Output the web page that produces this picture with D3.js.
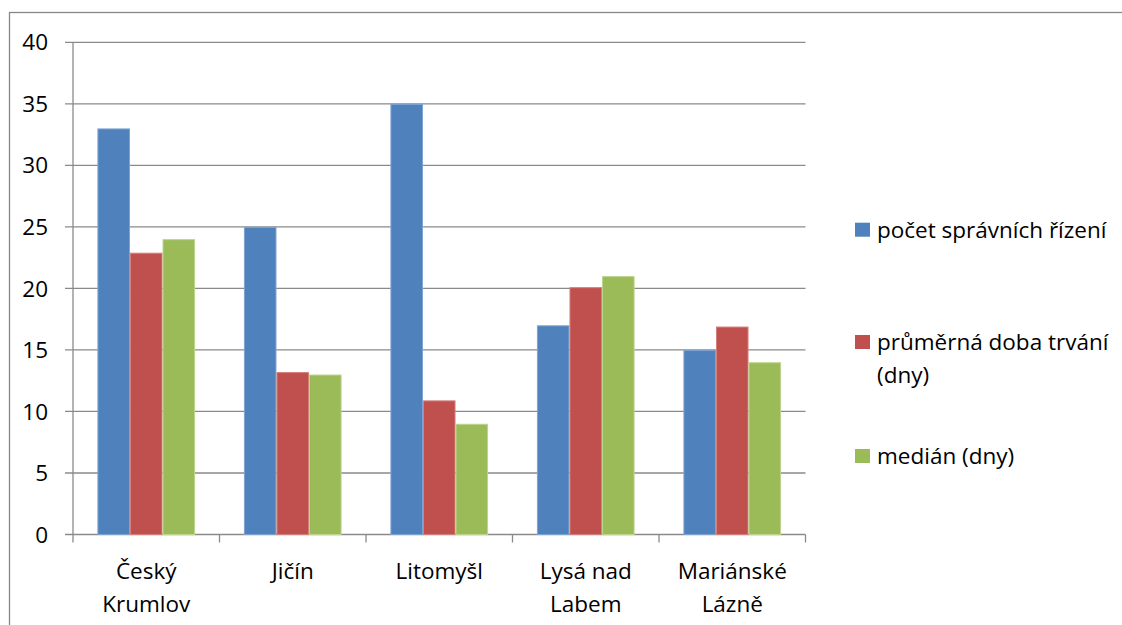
<!DOCTYPE html>
<html><head><meta charset="utf-8">
<script src="https://cdn.jsdelivr.net/npm/d3@7"></script>
<style>
html,body{margin:0;padding:0;background:#fff;}
svg{display:block;font-family:"Open Sans","Lato",sans-serif;}
</style></head><body>
<svg id="c" width="1122" height="625"></svg>
<script>
const categories = ["Český Krumlov", "Jičín", "Litomyšl", "Lysá nad Labem", "Mariánské Lázně"];
const seriesNames = ["počet správních řízení", "průměrná doba trvání (dny)", "medián (dny)"];
const pocet = [33, 25, 35, 17, 15];
const prumer = [22.9, 13.2, 10.9, 20.1, 16.9];
const median = [24, 13, 9, 21, 14];
const yTicks = [0, 5, 10, 15, 20, 25, 30, 35, 40];
const colors = ["#4F81BD", "#C0504D", "#9BBB59"];
const edges = ["#7EA2D3", "#D47F7C", "#BCD48C"];

(function () {
const series = [pocet, prumer, median];
const svg = d3.select("#c");
const W = 1122, H = 625;
const mLeft = 73, mRight = 805.5, mTop = 42.3, mBottom = 534.5;
const fontSize = 22.5;

// outer frame
svg.append("rect").attr("x", 9.5).attr("y", 12.5).attr("width", W + 20).attr("height", H + 20)
  .attr("fill", "none").attr("stroke", "#878787").attr("stroke-width", 1.3);

const x = d3.scaleBand().domain(categories).range([mLeft, mRight]).paddingInner(0).paddingOuter(0);
const y = d3.scaleLinear().domain([0, 40]).range([mBottom, mTop]);
const xs = d3.scaleBand().domain(d3.range(series.length)).range([0, x.bandwidth()]).paddingInner(0).paddingOuter(0.75);

// gridlines
svg.append("g").selectAll("line").data(yTicks).join("line")
  .attr("x1", mLeft - 8).attr("x2", mRight)
  .attr("y1", d => y(d)).attr("y2", d => y(d))
  .attr("stroke", "#8a8a8a").attr("stroke-width", 1.3);

// y axis line
svg.append("line").attr("x1", mLeft).attr("x2", mLeft).attr("y1", mTop).attr("y2", mBottom + 8)
  .attr("stroke", "#8a8a8a").attr("stroke-width", 1.3);

// x ticks at boundaries
const bounds = categories.map(c => x(c)).concat([mRight]);
svg.append("g").selectAll("line").data(bounds.slice(1)).join("line")
  .attr("x1", d => d).attr("x2", d => d).attr("y1", mBottom).attr("y2", mBottom + 8)
  .attr("stroke", "#8a8a8a").attr("stroke-width", 1.3);

// y labels
svg.append("g").selectAll("text").data(yTicks).join("text")
  .attr("x", 48).attr("y", d => y(d)).attr("dy", "0.36em")
  .attr("text-anchor", "end").attr("font-size", fontSize).attr("fill", "#000")
  .text(d => d);

// bars
series.forEach((vals, si) => {
  svg.append("g").selectAll("rect").data(vals).join("rect")
    .attr("x", (d, i) => x(categories[i]) + xs(si) + 0.5)
    .attr("y", d => y(d) + 0.5)
    .attr("width", xs.bandwidth() - 1)
    .attr("height", d => mBottom - y(d) - 0.5)
    .attr("fill", colors[si]).attr("stroke", edges[si]).attr("stroke-width", 1);
});

// category labels (wrapped)
function wrapLines(text, maxW) {
  const words = text.split(" ");
  const tmp = svg.append("text").attr("font-size", fontSize);
  const lines = []; let cur = "";
  words.forEach(w => {
    const t = cur ? cur + " " + w : w;
    tmp.text(t);
    if (tmp.node().getComputedTextLength() > maxW && cur) { lines.push(cur); cur = w; }
    else cur = t;
  });
  lines.push(cur); tmp.remove();
  return lines;
}
categories.forEach(c => {
  const lines = wrapLines(c, 125);
  const t = svg.append("text").attr("text-anchor", "middle").attr("font-size", fontSize).attr("fill", "#000");
  lines.forEach((l, i) => {
    t.append("tspan").attr("x", x(c) + x.bandwidth() / 2).attr("y", 579 + i * 33).text(l);
  });
});

// legend
const legY = [229.7, 342, 456];
seriesNames.forEach((n, i) => {
  const g = svg.append("g");
  g.append("rect").attr("x", 855).attr("y", legY[i] - 7).attr("width", 15).attr("height", 14).attr("fill", colors[i]);
  const lines = wrapLines(n, 240);
  const t = g.append("text").attr("font-size", fontSize).attr("fill", "#000");
  lines.forEach((l, k) => {
    t.append("tspan").attr("x", 877).attr("y", legY[i] + 8 + k * 33).text(l);
  });
});
})();
</script>
</body></html>
